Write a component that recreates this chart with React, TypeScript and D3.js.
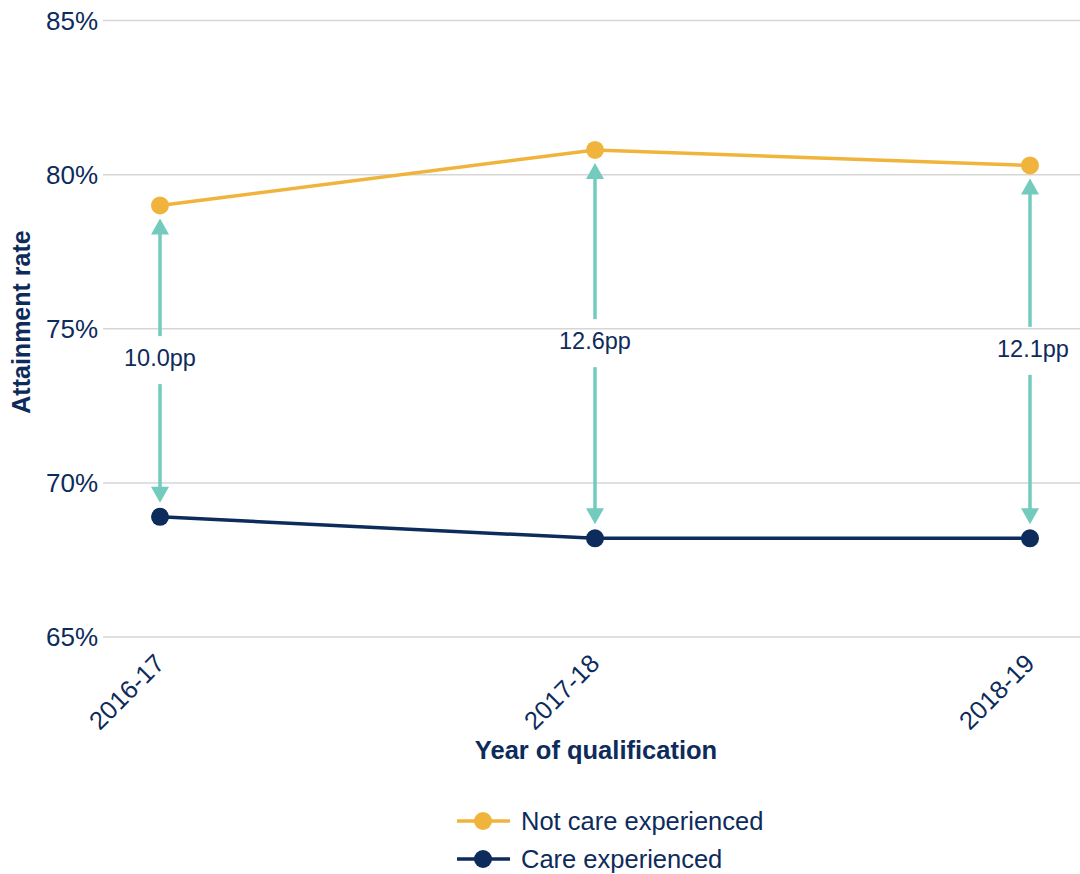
import React from "react";
import * as d3 from "d3";

const years = ["2016-17", "2017-18", "2018-19"];
const notCare = [79.0, 80.8, 80.3];
const care = [68.9, 68.2, 68.2];
const gapLabels = ["10.0pp", "12.6pp", "12.1pp"];
const yTicks = [65, 70, 75, 80, 85];
const seriesNames = ["Not care experienced", "Care experienced"];

const W = 1080;
const H = 874;
const NAVY = "#0d2b5b";
const ORANGE = "#f0b43c";
const TEAL = "#72cbbd";
const GRID = "#d6d6d6";
const FONT = "'Liberation Sans', Arial, sans-serif";

export default function App() {
  const x = d3.scalePoint<string>().domain(years).range([160, 1030]);
  const y = d3.scaleLinear().domain([65, 85]).range([637, 20.5]);
  const line = d3
    .line<number>()
    .x((_, i) => x(years[i]) as number)
    .y((d) => y(d));

  const series = [
    { name: seriesNames[0], values: notCare, color: ORANGE },
    { name: seriesNames[1], values: care, color: NAVY },
  ];

  const headLen = 16;
  const headW = 9;

  return (
    <svg width={W} height={H} style={{ position: "absolute", left: 0, top: 0, fontFamily: FONT }}>
      <rect width={W} height={H} fill="#fff" />
      {yTicks.map((t) => (
        <g key={t}>
          <line x1={103} x2={W} y1={y(t)} y2={y(t)} stroke={GRID} strokeWidth={1.5} />
          <text x={98} y={y(t)} dy="0.35em" textAnchor="end" fontSize={26} fill={NAVY}>
            {t}%
          </text>
        </g>
      ))}

      {/* arrows */}
      {years.map((yr, i) => {
        const cx = x(yr) as number;
        const top = y(notCare[i]) + 13;
        const bot = y(care[i]) - 14;
        const mid = (y(notCare[i]) + y(care[i])) / 2;
        return (
          <g key={yr}>
            <line x1={cx} x2={cx} y1={top + headLen - 1} y2={mid - 25} stroke={TEAL} strokeWidth={3.5} />
            <line x1={cx} x2={cx} y1={mid + 23} y2={bot - headLen + 1} stroke={TEAL} strokeWidth={3.5} />
            <polygon
              points={`${cx},${top} ${cx - headW},${top + headLen} ${cx + headW},${top + headLen}`}
              fill={TEAL}
            />
            <polygon
              points={`${cx},${bot} ${cx - headW},${bot - headLen} ${cx + headW},${bot - headLen}`}
              fill={TEAL}
            />
            <text x={cx + (i === 2 ? 3 : 0)} y={mid - 3} dy="0.35em" textAnchor="middle" fontSize={23.5} fill={NAVY}>
              {gapLabels[i]}
            </text>
          </g>
        );
      })}

      {series.map((s) => (
        <g key={s.name}>
          <path d={line(s.values) || ""} fill="none" stroke={s.color} strokeWidth={3.5} />
          {s.values.map((v, i) => (
            <circle key={i} cx={x(years[i]) as number} cy={y(v)} r={9} fill={s.color} />
          ))}
        </g>
      ))}

      {years.map((yr) => (
        <text
          key={yr}
          transform={`translate(${(x(yr) as number) + 6},${665}) rotate(-45)`}
          textAnchor="end"
          fontSize={25.5}
          fill={NAVY}
        >
          {yr}
        </text>
      ))}

      <text
        transform={`translate(30,322) rotate(-90)`}
        textAnchor="middle"
        fontSize={25}
        fontWeight="bold"
        fill={NAVY}
      >
        Attainment rate
      </text>
      <text x={596} y={759} textAnchor="middle" fontSize={25.5} fontWeight="bold" fill={NAVY}>
        Year of qualification
      </text>

      {series.map((s, i) => {
        const ly = 821 + i * 38;
        return (
          <g key={s.name}>
            <line x1={457} x2={510} y1={ly} y2={ly} stroke={s.color} strokeWidth={3.5} />
            <circle cx={483} cy={ly} r={9} fill={s.color} />
            <text x={521} y={ly} dy="0.35em" fontSize={25.5} fill={NAVY}>
              {s.name}
            </text>
          </g>
        );
      })}
    </svg>
  );
}
